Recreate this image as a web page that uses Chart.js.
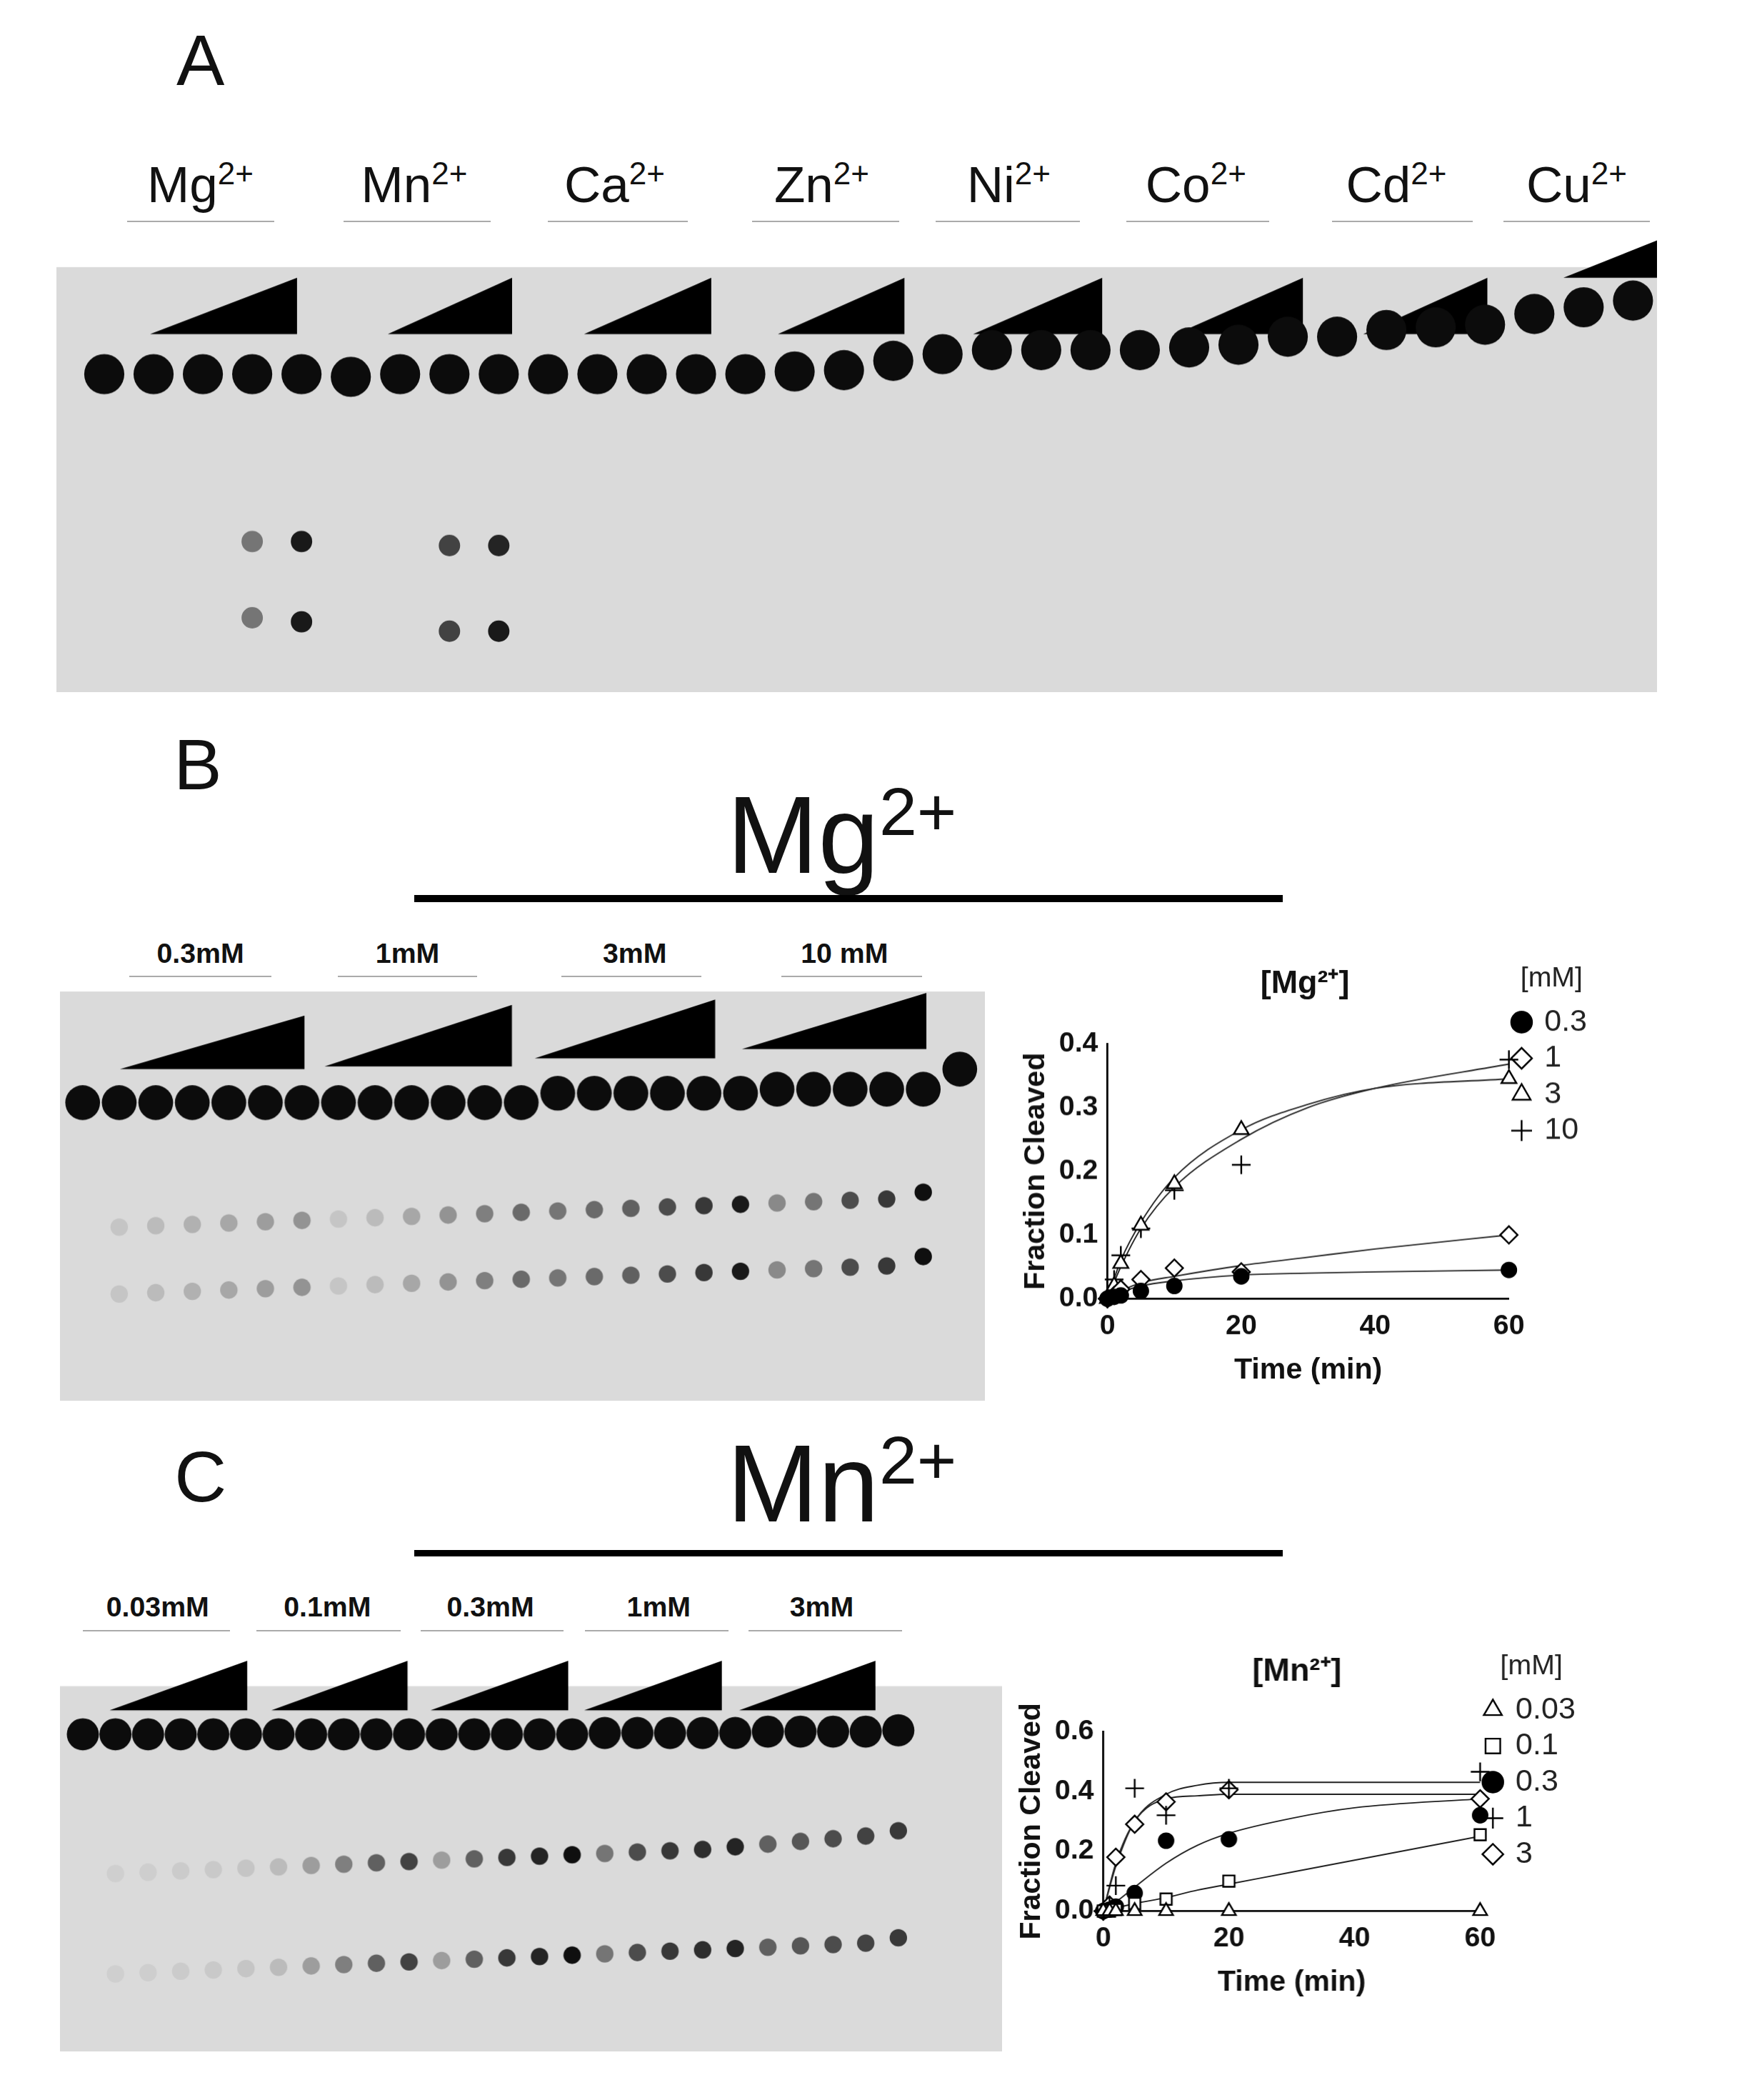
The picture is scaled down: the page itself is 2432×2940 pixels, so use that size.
<!DOCTYPE html>
<html><head><meta charset="utf-8">
<script src="https://cdn.jsdelivr.net/npm/chart.js@4.4.1/dist/chart.umd.min.js"></script>
<style>
html,body{margin:0;padding:0;background:#fff;width:2432px;height:2940px;overflow:hidden;font-family:"Liberation Sans",Arial,sans-serif}
.abs{position:absolute}
.lbl{position:absolute;transform:translate(-50%,-50%);white-space:nowrap;color:#111}
.ul{position:absolute;height:2px;background:#aaa}
.bar{position:absolute;background:#000}
sup{font-size:62%;vertical-align:0.55em;line-height:0}
</style></head><body>
<script>
// ---------------- DATA ----------------
const timePoints = [0, 1, 2, 5, 10, 20, 60];
const mgConcs = ['0.3', '1', '3', '10'];
const mg03 = [0, 0.003, 0.005, 0.012, 0.02, 0.035, 0.045];
const mg1  = [0, 0.005, 0.015, 0.03, 0.048, 0.042, 0.1];
const mg3  = [0, 0.02, 0.055, 0.115, 0.18, 0.265, 0.345];
const mg10 = [0, 0.03, 0.068, 0.11, 0.17, 0.21, 0.375];
const mgFitTimes = [0, 2, 5, 10, 20, 30, 40, 60];
const mgFit03 = [0, 0.01, 0.02, 0.028, 0.037, 0.04, 0.042, 0.045];
const mgFit1  = [0, 0.012, 0.025, 0.035, 0.052, 0.065, 0.078, 0.1];
const mgFit3  = [0, 0.06, 0.12, 0.19, 0.265, 0.305, 0.33, 0.345];
const mgFit10 = [0, 0.05, 0.11, 0.175, 0.25, 0.3, 0.33, 0.368];

const mnConcs = ['0.03', '0.1', '0.3', '1', '3'];
const mn003 = [0, 0, 0, 0, 0, 0, 0];
const mn01  = [0, 0, 0.005, 0.025, 0.04, 0.1, 0.255];
const mn03  = [0, 0.005, 0.015, 0.06, 0.235, 0.24, 0.32];
const mn1   = [0, 0.02, 0.085, 0.41, 0.32, 0.41, 0.465];
const mn3   = [0, 0.02, 0.18, 0.29, 0.365, 0.405, 0.375];
const mnFitTimes = [0, 2, 5, 10, 15, 20, 30, 40, 60];
const mnFit003 = [0, 0, 0, 0, 0, 0, 0, 0, 0];
const mnFit01  = [0, 0.01, 0.025, 0.045, 0.07, 0.09, 0.13, 0.17, 0.25];
const mnFit03  = [0, 0.03, 0.08, 0.16, 0.22, 0.26, 0.31, 0.345, 0.375];
const mnFit1   = [0, 0.15, 0.3, 0.39, 0.42, 0.43, 0.43, 0.43, 0.43];
const mnFit3   = [0, 0.16, 0.3, 0.375, 0.385, 0.39, 0.39, 0.39, 0.39];

const metals = ['Mg', 'Mn', 'Ca', 'Zn', 'Ni', 'Co', 'Cd', 'Cu'];
const gelASubstrate = [80,80,80,80,80, 82,80,80,80, 80,80,80,80, 80,78,77,70, 65,62,62,62, 62,60,58,52, 52,47,45,43, 35,30,25];
const gelAWedges = [[0.93,3.91],[5.75,8.27],[9.73,12.31],[13.66,16.23],[17.62,20.24],[21.73,24.31],[25.53,28.05],[29.59,31.49]];
const gelAWedgeTop = [8,8,8,8,8,8,8,-20];
const gelAWedgeBottom = [50,50,50,50,50,50,50,8];
const gelAProductLanes = [3, 4, 7, 8, 3, 4, 7, 8];
const gelAProductMig   = [205, 205, 208, 208, 262, 265, 272, 272];
const gelAProductInt   = [0.5, 0.95, 0.75, 0.9, 0.5, 0.95, 0.75, 0.95];

const mgGelLabels = ['0.3mM', '1mM', '3mM', '10 mM'];
const gelBSubstrate = [83,83,83,83,83,83,83, 83,83,83,83,83,83, 76,76,76,76,76,76, 73,73,73,73,73, 58];
const gelBWedges = [[1.02,6.07],[6.62,11.75],[12.37,17.31],[18.04,23.09]];
const gelBWedgeTop = [18, 10, 6, 1];
const gelBWedgeBottom = [58, 56, 50, 43];
const gelBProdInt = [0, 0.1,0.15,0.2,0.25,0.3,0.35, 0.1,0.15,0.25,0.35,0.45,0.55, 0.5,0.55,0.6,0.7,0.8,0.95, 0.4,0.5,0.7,0.8,1.0, 0];
const gelBUpperMig = [176,176,175,174,173,172,171, 170,169,168,167,166,165, 164,163,162,161,160,159, 158,157,156,155,150, 150];
const gelBLowerMig = [226,226,225,224,223,222,221, 220,219,218,217,216,215, 214,213,212,211,210,209, 208,207,206,205,198, 198];

const mnGelLabels = ['0.03mM', '0.1mM', '0.3mM', '1mM', '3mM'];
const gelCSubstrate = [36,36,36,36,36,36, 36,36,36,36,36, 36,36,36,36,36, 35,35,35,35,35, 34,34,34,34,33];
const gelCWedges = [[0.82,5.04],[5.78,9.96],[10.66,14.88],[15.37,19.59],[20.12,24.3]];
const gelCWedgeTop = [-19,-19,-19,-19,-19];
const gelCWedgeBottom = [18,18,18,18,18];
const gelCProdInt = [0, 0.05,0.06,0.07,0.08,0.1, 0.15,0.3,0.45,0.6,0.75, 0.3,0.6,0.8,0.9,1.0, 0.5,0.7,0.8,0.85,0.9, 0.6,0.65,0.7,0.75,0.8];
const gelCUpperMig = [140,140,139,138,137,136, 135,134,133,132,131, 130,129,128,127,126, 125,124,123,122,120, 118,116,114,112,108];
const gelCLowerMig = [215,215,214,213,212,211, 210,209,208,207,206, 205,204,203,202,201, 200,199,198,197,196, 195,194,193,192,188];

// ---------------- LAYOUT HELPERS ----------------
const K = 2432 / 1300;
function S(v){ return v * K; }
function label(html, x, y, size, weight){
  const d = document.createElement('div'); d.className='lbl';
  d.style.left=S(x)+'px'; d.style.top=S(y)+'px'; d.style.fontSize=S(size)+'px';
  if (weight) d.style.fontWeight = weight;
  d.innerHTML = html; document.body.appendChild(d);
}
function uline(x1, x2, y){
  const d=document.createElement('div'); d.className='ul';
  d.style.left=S(x1)+'px'; d.style.width=S(x2-x1)+'px'; d.style.top=S(y)+'px';
  document.body.appendChild(d);
}
function bar(x1,x2,y,h){
  const d=document.createElement('div'); d.className='bar';
  d.style.left=S(x1)+'px'; d.style.width=S(x2-x1)+'px'; d.style.top=S(y)+'px'; d.style.height=S(h)+'px';
  document.body.appendChild(d);
}
function canvasAt(x,y,w,h){
  const wrap=document.createElement('div'); wrap.className='abs';
  wrap.style.left=S(x)+'px'; wrap.style.top=S(y)+'px'; wrap.style.width=S(w)+'px'; wrap.style.height=S(h)+'px';
  const c=document.createElement('canvas'); wrap.appendChild(c); document.body.appendChild(wrap); return c;
}

// ---------------- GEL CHART ----------------
const gelBg = {
  id:'gelBg',
  beforeDatasetsDraw(chart, args, opts){
    const {ctx, chartArea:a, scales:{y}} = chart;
    const top = y.getPixelForValue(0);
    ctx.save(); ctx.fillStyle = opts.color || '#d9d9d9';
    ctx.fillRect(a.left, top, a.right-a.left, a.bottom-top);
    ctx.restore();
  }
};
function gelChart(canvas, cfg){
  const ds = [];
  cfg.wedges.forEach((w,i)=>{
    ds.push({type:'line', data:[{x:w[0],y:cfg.wBottom[i]},{x:w[1],y:cfg.wTop[i]}], borderWidth:0, pointRadius:0, fill:'+1', backgroundColor:'#000', borderColor:'#000', tension:0, order:5});
    ds.push({type:'line', data:[{x:w[0],y:cfg.wBottom[i]},{x:w[1],y:cfg.wBottom[i]}], borderWidth:0, pointRadius:0, fill:false, borderColor:'#000', tension:0, order:5});
  });
  ds.push({type:'scatter', data: cfg.substrate.map((m,i)=>({x:i,y:m})), pointStyle:'circle', pointRadius:S(cfg.subR||14), backgroundColor:'#0c0c0c', borderWidth:0});
  (cfg.products||[]).forEach(p=>{
    ds.push({type:'scatter', data: p.mig.map((m,i)=>({x:p.lanes?p.lanes[i]:i, y:m})).filter((d,i)=>p.int[i]>0),
      pointStyle:'circle', pointRadius:S(cfg.prodR||8), borderWidth:0,
      backgroundColor: p.int.filter(v=>v>0).map(v=>`rgba(15,15,15,${v})`)});
  });
  return new Chart(canvas,{data:{datasets:ds},
    options:{responsive:true, maintainAspectRatio:false, animation:false, events:[],
      layout:{padding:0, autoPadding:false},
      plugins:{legend:{display:false}, tooltip:{enabled:false}, gelBg:{color:'#dadada'}},
      scales:{x:{type:'linear',min:cfg.xmin,max:cfg.xmax,display:false},
              y:{type:'linear',reverse:true,min:cfg.ymin,max:cfg.ymax,display:false}}},
    plugins:[gelBg]});
}

// ---------------- KINETIC PLOT ----------------
function kinChart(canvas, title, ymax, step, series, fits, fitTimes, concs, styles, titlePad){
  const ds=[];
  series.forEach((s,i)=>{
    const st=styles[i];
    ds.push({type:'scatter', label:concs[i], data:timePoints.map((t,j)=>({x:t,y:s[j]})),
      pointStyle:st.ps, pointRadius:S(st.r||5.5), pointBorderWidth:S(1.3), borderColor:'#000',
      backgroundColor: st.fill?'#000':'#fff', clip:false, order:1});
  });
  fits.forEach(f=>{
    ds.push({type:'line', label:'fit', data:fitTimes.map((t,j)=>({x:t,y:f[j]})), borderColor:'#222',
      borderWidth:S(1), pointRadius:0, cubicInterpolationMode:'monotone', fill:false, clip:false, order:2});
  });
  const fam='"Liberation Sans",Arial';
  const tickFont={family:fam, weight:'bold', size:S(21)};
  return new Chart(canvas,{data:{datasets:ds},
    options:{responsive:true, maintainAspectRatio:false, animation:false, events:[],
      layout:{padding:{top:0,right:S(8),left:0,bottom:0}, autoPadding:false},
      plugins:{tooltip:{enabled:false},
        title:{display:true,text:title,color:'#111',font:{family:fam,weight:'bold',size:S(24)},padding:{top:0,bottom:S(titlePad)}},
        legend:{position:'right',align:'start',
          title:{display:true,text:'[mM]',color:'#222',font:{size:S(21),family:fam},padding:{top:0,bottom:S(2)}},
          labels:{usePointStyle:true, color:'#222', boxWidth:S(11), boxHeight:S(11), padding:S(4),
            font:{size:S(23),family:fam},
            filter:(it)=>it.text!=='fit'}}},
      scales:{
        x:{type:'linear',min:0,max:60,offset:false,
           ticks:{stepSize:20,color:'#111',font:tickFont,padding:S(3)},
           grid:{display:false,tickLength:S(5)}, border:{color:'#000',width:S(1.5)},
           title:{display:true,text:'Time (min)',color:'#111',font:{family:fam,weight:'bold',size:S(22)},padding:{top:S(4)}}},
        y:{type:'linear',min:0,max:ymax,
           ticks:{stepSize:step,color:'#111',font:tickFont,padding:S(2),callback:v=>v.toFixed(1)},
           grid:{display:false,tickLength:S(5)}, border:{color:'#000',width:S(1.5)},
           title:{display:true,text:'Fraction Cleaved',color:'#111',font:{family:fam,weight:'bold',size:S(22)},padding:{bottom:S(2)}}}}}
  });
}

// ---------------- PANEL A ----------------
label('A',150,45,54);
const aCenters=[150,310,460,615,755,895,1045,1180];
const aUl=[[95,205],[257,367],[410,515],[563,673],[700,808],[843,950],[997,1102],[1125,1235]];
metals.forEach((m,i)=>{ label(m+'<sup>2+</sup>', aCenters[i], 138, 38); uline(aUl[i][0],aUl[i][1],165); });
gelChart(canvasAt(42,168,1198,350),{xmin:-0.97,xmax:31.49,ymin:-32,ymax:318,
  wedges:gelAWedges,wTop:gelAWedgeTop,wBottom:gelAWedgeBottom,substrate:gelASubstrate,subR:15,prodR:8,
  products:[{lanes:gelAProductLanes,mig:gelAProductMig,int:gelAProductInt}]});

// ---------------- PANEL B ----------------
label('B',148,572,54);
label('Mg<sup>2+</sup>',630,625,82);
bar(310,960,670,5);
const bC=[150,305,475,632], bU=[[97,203],[253,357],[420,525],[585,690]];
mgGelLabels.forEach((t,i)=>{ label(t,bC[i],713,21,'bold'); uline(bU[i][0],bU[i][1],730); });
gelChart(canvasAt(45,735,692,313),{xmin:-0.62,xmax:24.7,ymin:-7,ymax:306,
  wedges:gelBWedges,wTop:gelBWedgeTop,wBottom:gelBWedgeBottom,substrate:gelBSubstrate,subR:13,prodR:6.5,
  products:[{mig:gelBUpperMig,int:gelBProdInt},{mig:gelBLowerMig,int:gelBProdInt}]});
kinChart(canvasAt(760,722,441,318),'[Mg²⁺]',0.4,0.1,[mg03,mg1,mg3,mg10],[mgFit03,mgFit1,mgFit3,mgFit10],mgFitTimes,mgConcs,
  [{ps:'circle',fill:true},{ps:'rectRot',r:6.5},{ps:'triangle',r:6.5},{ps:'cross',r:7}], 30);

// ---------------- PANEL C ----------------
label('C',150,1105,54);
label('Mn<sup>2+</sup>',630,1110,82);
bar(310,960,1160,5);
const cC=[118,245,367,493,615], cU=[[62,172],[192,300],[315,422],[438,545],[560,675]];
mnGelLabels.forEach((t,i)=>{ label(t,cC[i],1202,21,'bold'); uline(cU[i][0],cU[i][1],1220); });
gelChart(canvasAt(45,1235,705,300),{xmin:-0.7,xmax:28.2,ymin:-27,ymax:273,
  wedges:gelCWedges,wTop:gelCWedgeTop,wBottom:gelCWedgeBottom,substrate:gelCSubstrate,subR:12,prodR:6.5,
  products:[{mig:gelCUpperMig,int:gelCProdInt},{mig:gelCLowerMig,int:gelCProdInt}]});
kinChart(canvasAt(757,1237,435,262),'[Mn²⁺]',0.6,0.2,[mn003,mn01,mn03,mn1,mn3],[mnFit003,mnFit01,mnFit03,mnFit1,mnFit3],mnFitTimes,mnConcs,
  [{ps:'triangle',r:6},{ps:'rect',r:6},{ps:'circle',fill:true},{ps:'cross',r:7},{ps:'rectRot',r:6.5}], 30);
</script>
</body></html>
